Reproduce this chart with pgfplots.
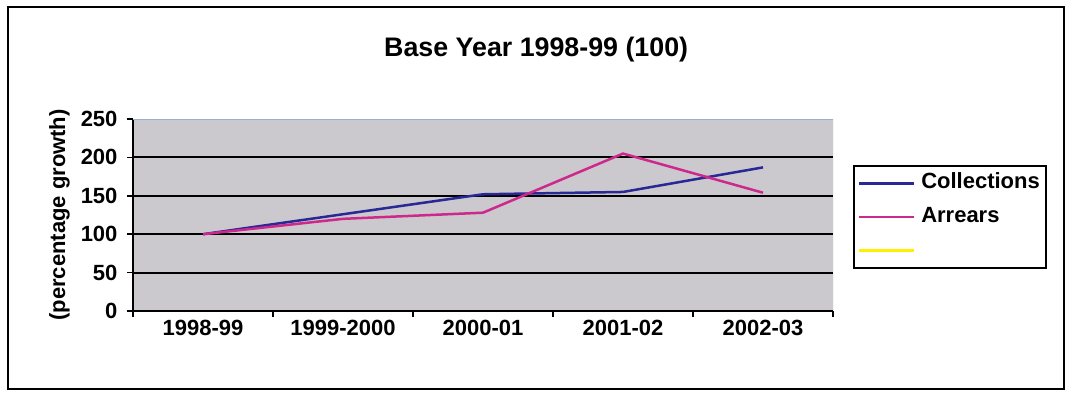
\documentclass[border=0pt]{standalone}
\usepackage{fontspec}
\setmainfont{Liberation Sans}
\usepackage{pgfplots}
\pgfplotsset{compat=1.18}
\definecolor{collcol}{RGB}{40,40,150}
\definecolor{arrcol}{RGB}{205,40,140}
\definecolor{plotbg}{RGB}{204,201,206}
\definecolor{yelcol}{RGB}{255,240,0}
\definecolor{edgecol}{RGB}{150,175,210}
\newcommand{\lbl}{\fontsize{22}{26}\selectfont\bfseries}
\begin{document}
\begin{tikzpicture}
\useasboundingbox (0pt,0pt) rectangle (1071pt,392pt);
\draw[line width=2pt] (8pt,3pt) rectangle (1064pt,385pt);
\begin{axis}[
  at={(133pt,81pt)}, anchor=south west,
  width=700pt, height=192pt, scale only axis,
  xmin=-0.5, xmax=4.5, ymin=0, ymax=250,
  axis background/.style={fill=plotbg},
  axis x line*=bottom, axis y line*=left,
  axis line style={line width=2pt, black, -},
  xtick={-0.5,0.5,...,4.5}, xticklabels={},
  extra x ticks={0,1,2,3,4},
  extra x tick labels={1998-99,1999-2000,2000-01,2001-02,2002-03},
  extra x tick style={major tick length=0pt, xticklabel style={anchor=center, yshift=-17pt}},
  ytick={0,50,...,250},
  extra y ticks={50,100,150,200},
  extra y tick labels={},
  extra y tick style={ymajorgrids=true, major tick length=0pt, major grid style={black, line width=2pt}},
  tick align=outside,
  major tick length=6pt,
  tick style={black, line width=1.5pt},
  /pgf/number format/assume math mode=true,
  ticklabel style={font=\lbl},
  yticklabel style={xshift=-6pt},
  ylabel={(percentage growth)},
  ylabel style={font=\fontsize{22}{26}\selectfont\bfseries, at={(axis description cs:-0.105,0.5)}, anchor=center, rotate=0},
  title={Base Year 1998-99 (100)},
  title style={font=\fontsize{26.8}{31}\selectfont\bfseries, at={(axis description cs:0.576,1.33)}, anchor=center},
  legend style={at={(axis description cs:1.0286,0.76)}, anchor=north west,
    draw=black, line width=1.5pt, fill=white, font=\lbl,
    row sep=10.5pt, inner xsep=4pt, inner ysep=6pt,
    nodes={inner sep=2pt, text height=15pt, text depth=4pt},
    legend cell align=left},
  legend image code/.code={\draw[#1] (0pt,0pt) -- (55pt,0pt); \path (59pt,0pt);},
]
\addplot[collcol, line width=2.5pt] coordinates {(0,100) (1,126) (2,152) (3,155) (4,187)};
\addlegendentry{Collections}
\addplot[arrcol, line width=2.5pt] coordinates {(0,100) (1,120) (2,128) (3,205) (4,154)};
\addlegendentry{Arrears}
\addlegendimage{yelcol, line width=2.5pt}
\addlegendentry{\phantom{Collections}}
\draw[edgecol, line width=1pt] (rel axis cs:0,1) -- (rel axis cs:1,1) -- (rel axis cs:1,0);
\end{axis}
\end{tikzpicture}
\end{document}
